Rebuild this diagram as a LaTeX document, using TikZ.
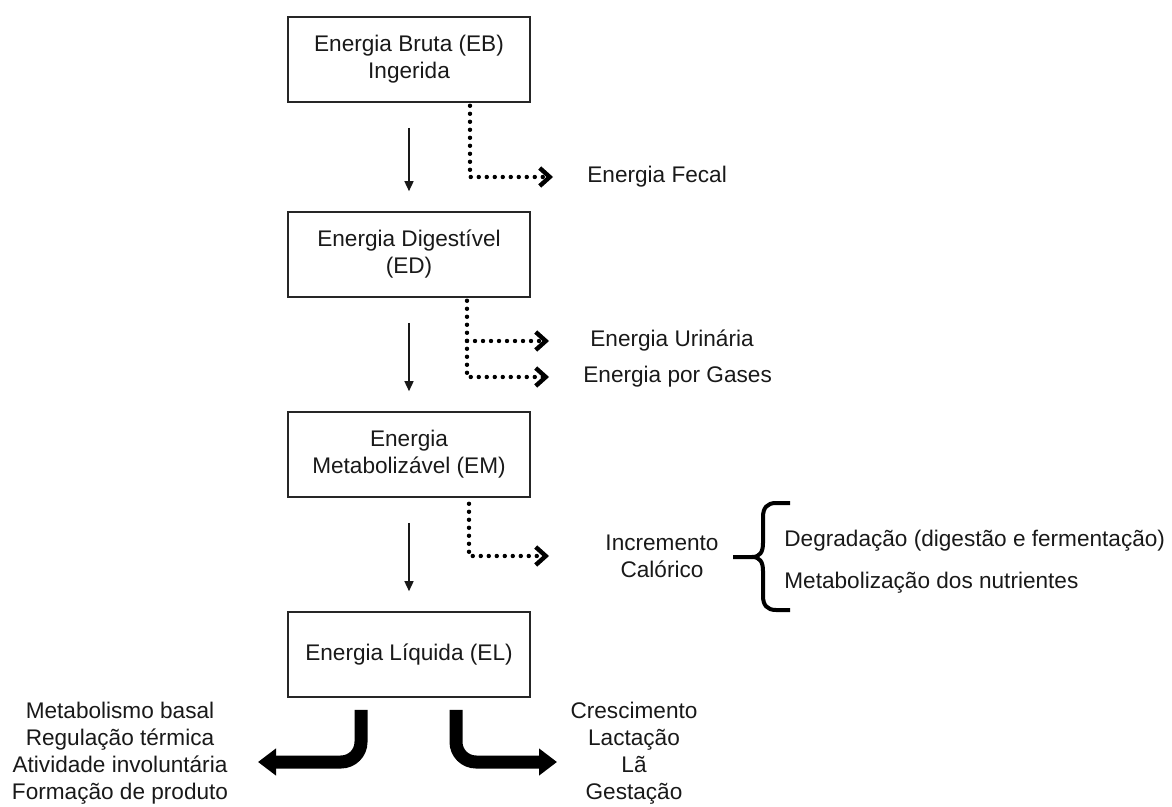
\documentclass[tikz,border=0pt]{standalone}
\usepackage{fontspec}
\setmainfont{Liberation Sans}
\usetikzlibrary{arrows.meta,calc}
\begin{document}
\begin{tikzpicture}[x=0.5pt,y=-0.5pt,
  every node/.style={font=\fontsize{11.3}{13.5}\selectfont, text=black!90},
  box/.style={draw=black!85, line width=0.8pt, minimum width=121pt, minimum height=42.5pt, align=center, inner sep=0pt},
  lbl/.style={inner sep=0pt, anchor=west},
  solidarrow/.style={draw=black!90, line width=0.75pt, -{Triangle[length=5pt,width=4.5pt]}},
  dotarrow/.style={line width=2.2pt, line cap=round, dash pattern=on 0pt off 4pt, -{Straight Barb[length=5pt,width=9pt,line width=2.2pt]}},
  bigarrow/.style={line width=6.5pt, rounded corners=10pt, -{Triangle[length=9pt,width=13pt]}},
  bracepath/.style={line width=2pt, line join=round}
]
\useasboundingbox (0,0) rectangle (1172,807);

% main boxes
\node[box] (eb) at (409,59.5) {Energia Bruta (EB)\\Ingerida};
\node[box] (ed) at (409,254.5) {Energia Digestível\\(ED)};
\node[box] (em) at (409,454.5) {Energia\\Metabolizável (EM)};
\node[box] (el) at (409,654.5) {Energia Líquida (EL)};

% solid arrows
\draw[solidarrow] ([yshift=-12.5pt]eb.south) -- ([yshift=10pt]ed.north);
\draw[solidarrow] ([yshift=-12.5pt]ed.south) -- ([yshift=10pt]em.north);
\draw[solidarrow] ([yshift=-12.5pt]em.south) -- ([yshift=10pt]el.north);

% loss labels
\node[lbl] (fecal) at (587,177) {Energia Fecal};
\node[lbl] (urin) at (590,341) {Energia Urinária};
\node[lbl] (gas) at (583,377) {Energia por Gases};
\node[align=center, inner sep=0pt] (inc) at (662,556) {Incremento\\Calórico};

\coordinate (d1) at (470,0);
\coordinate (d2) at (467,0);
\coordinate (d3) at (469,0);
\coordinate (t1) at (553,0);
\coordinate (t2) at (549,0);

\draw[dotarrow] ([yshift=-1.5pt]eb.south -| d1) |- (t1 |- fecal.west);
\draw[dotarrow] ([yshift=-1.5pt]ed.south -| d2) |- (t2 |- gas.west);
\draw[dotarrow] (d2 |- urin.west) -- (t2 |- urin.west);
\draw[dotarrow] ([yshift=-3pt]em.south -| d3) |- (t2 |- inc.center);

% brace
\draw[bracepath] (733,557) -- (752,557)
  .. controls (760,557) and (763,552) .. (763,543) -- (763,517)
  .. controls (763,508) and (767,503) .. (776,503) -- (790,503);
\draw[bracepath] (752,557)
  .. controls (760,557) and (763,562) .. (763,571) -- (763,596)
  .. controls (763,605) and (767,610) .. (776,610) -- (790,610);
\node[lbl] (deg) at (784,541) {Degradação (digestão e fermentação)};
\node[lbl] (met) at (784,583) {Metabolização dos nutrientes};

% bottom outputs
\node[align=center, inner sep=0pt] (manut) at (120,753) {Metabolismo basal\\Regulação térmica\\Atividade involuntária\\Formação de produto};
\node[align=center, inner sep=0pt] (prod) at (634,753) {Crescimento\\Lactação\\Lã\\Gestação};
\coordinate (sl) at (361,0);
\coordinate (sr) at (456,0);
\coordinate (hy) at (0,762);
\coordinate (tl) at (258,0);
\coordinate (tr) at (557,0);
\draw[bigarrow] ([yshift=-6pt]el.south -| sl) -- (sl |- hy) -- (tl |- hy);
\draw[bigarrow] ([yshift=-6pt]el.south -| sr) -- (sr |- hy) -- (tr |- hy);
\end{tikzpicture}
\end{document}
